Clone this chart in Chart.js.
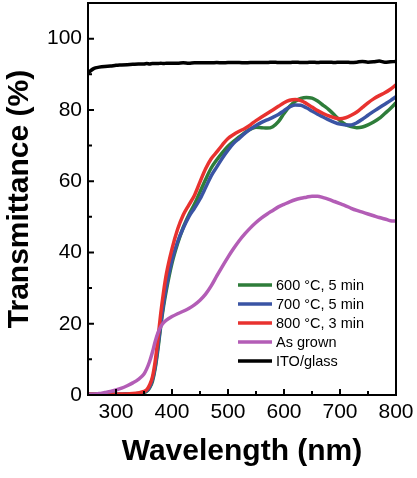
<!DOCTYPE html>
<html>
<head>
<meta charset="utf-8">
<script src="https://cdn.jsdelivr.net/npm/chart.js@4.4.0/dist/chart.umd.min.js"></script>
<style>
  html, body { margin: 0; padding: 0; background: #fff; }
  #wrap { width: 417px; height: 478px; }
</style>
</head>
<body>
<div id="wrap"><canvas id="chart" width="417" height="478"></canvas></div>
<script>
// --- DATA ---
const wavelength = [250, 260, 270, 280, 290, 300, 310, 320, 330, 340,
  350, 355, 360, 365, 370, 375, 380, 385, 390, 400,
  410, 420, 430, 440, 450, 460, 470, 480, 490, 500,
  510, 520, 530, 540, 550, 560, 570, 580, 590, 600,
  610, 620, 630, 640, 650, 660, 670, 680, 690, 700,
  710, 720, 730, 740, 750, 760, 770, 780, 790, 800];

const t600 = [0.2, 0.2, 0.2, 0.2, 0.2, 0.2, 0.2, 0.3, 0.3, 0.4,
  0.7, 1.1, 2, 3.8, 7.5, 13, 19.5, 25, 29.5, 37,
  42.5, 47, 50.5, 53.5, 57, 60.5, 63.7, 66, 68, 69.8,
  71.2, 72.4, 73.6, 74.6, 75.1, 75, 74.9, 75.3, 76.7, 79,
  81, 82.4, 83.2, 83.5, 83.3, 82.5, 81.3, 80.1, 78.6, 77,
  75.9, 75.3, 75, 75.2, 75.8, 76.6, 77.6, 79, 80.4, 82];

const t700 = [0.2, 0.2, 0.2, 0.2, 0.2, 0.2, 0.2, 0.3, 0.3, 0.4,
  0.8, 1.2, 2.2, 4.3, 8, 13.8, 20, 25.8, 30.5, 37.8,
  43, 46.8, 50, 52.4, 55, 58.2, 61.5, 64, 66.5, 68.7,
  70.6, 72, 73.4, 74.6, 75.6, 76.5, 77.2, 77.9, 78.7, 79.8,
  80.8, 81.4, 81.3, 80.6, 79.7, 78.8, 78, 77.2, 76.5, 76,
  75.8, 75.8, 76.4, 77.4, 78.5, 79.6, 80.6, 81.6, 82.6, 83.7];

const t800 = [0.2, 0.2, 0.2, 0.2, 0.2, 0.2, 0.3, 0.3, 0.4, 0.6,
  1.0, 1.5, 2.8, 5, 9.5, 16, 23, 29, 34, 41,
  46.5, 50.5, 53.3, 56, 59.8, 63.5, 66.3, 68.2, 70.2, 72,
  73.1, 74, 74.8, 75.8, 77, 78, 79, 80, 81, 82,
  82.7, 82.9, 82.6, 81.8, 80.8, 79.8, 79, 78.3, 77.8, 77.5,
  77.8, 78.5, 79.4, 80.7, 82, 83.1, 84, 84.8, 85.8, 87];

const asGrown = [0.1, 0.2, 0.4, 0.7, 1.0, 1.4, 1.9, 2.6, 3.4, 4.4,
  5.9, 7.4, 9.4, 12, 15, 17.5, 19.2, 20.3, 21, 22,
  22.8, 23.5, 24.3, 25.3, 26.6, 28.3, 30.6, 33.4, 36.1, 38.7,
  41.1, 43.3, 45.2, 46.9, 48.4, 49.7, 50.8, 51.8, 52.8, 53.5,
  54.2, 54.8, 55.2, 55.5, 55.8, 55.8, 55.4, 54.9, 54.3, 53.7,
  53.1, 52.4, 51.8, 51.3, 50.8, 50.3, 49.8, 49.4, 48.9, 48.8];

const itoGlass = [90.4, 91.6, 92.0, 92.2, 92.3, 92.5, 92.6, 92.7, 92.8, 92.9,
  92.9, 93.0, 92.9, 93.0, 93.0, 93.0, 93.1, 93.0, 93.1, 93.1,
  93.1, 93.2, 93.1, 93.2, 93.2, 93.2, 93.2, 93.3, 93.2, 93.3,
  93.3, 93.3, 93.2, 93.3, 93.3, 93.3, 93.3, 93.4, 93.3, 93.3,
  93.3, 93.4, 93.3, 93.3, 93.4, 93.3, 93.4, 93.4, 93.3, 93.4,
  93.4, 93.3, 93.4, 93.6, 93.4, 93.5, 93.7, 93.4, 93.5, 93.6];

const seriesNames = ['600 °C, 5 min', '700 °C, 5 min', '800 °C, 3 min', 'As grown', 'ITO/glass'];
const xTicks = [300, 400, 500, 600, 700, 800];
const xMinor = [350, 450, 550, 650, 750];
const yTicks = [0, 20, 40, 60, 80, 100];
const yMinor = [10, 30, 50, 70, 90];

const FONT = "'Liberation Sans', Arial, sans-serif";
const toPts = vals => vals.map((v, i) => ({ x: wavelength[i], y: v }));

// --- frame + inward ticks ---
const frameTicks = {
  id: 'frameTicks',
  afterDatasetsDraw(chart) {
    const { ctx, chartArea: a, scales: { x, y } } = chart;
    ctx.save();
    ctx.strokeStyle = '#000';
    ctx.lineWidth = 2;
    ctx.strokeRect(a.left, a.top, a.right - a.left, a.bottom - a.top);
    ctx.beginPath();
    xTicks.forEach(v => { const px = x.getPixelForValue(v); ctx.moveTo(px, a.bottom); ctx.lineTo(px, a.bottom - 6); });
    xMinor.forEach(v => { const px = x.getPixelForValue(v); ctx.moveTo(px, a.bottom); ctx.lineTo(px, a.bottom - 4); });
    yTicks.forEach(v => { const py = y.getPixelForValue(v); ctx.moveTo(a.left, py); ctx.lineTo(a.left + 6, py); });
    yMinor.forEach(v => { const py = y.getPixelForValue(v); ctx.moveTo(a.left, py); ctx.lineTo(a.left + 4, py); });
    ctx.stroke();
    ctx.restore();
  }
};

// --- legend inside the plot, bottom right ---
const innerLegend = {
  id: 'innerLegend',
  afterDraw(chart) {
    const { ctx } = chart;
    const x0 = 238, x1 = 272, tx = 276, y0 = 285, dy = 19;
    ctx.save();
    ctx.font = '14.5px ' + FONT;
    ctx.textBaseline = 'middle';
    ctx.fillStyle = '#000';
    chart.data.datasets.forEach((ds, i) => {
      const yy = y0 + i * dy;
      ctx.strokeStyle = ds.borderColor;
      ctx.lineWidth = 3.5;
      ctx.beginPath();
      ctx.moveTo(x0, yy);
      ctx.lineTo(x1, yy);
      ctx.stroke();
      ctx.fillText(ds.label, tx, yy + 1);
    });
    ctx.restore();
  }
};

const colors = ['#2e7d3a', '#3a54a4', '#e8322f', '#b35db6', '#000000'];
const drawOrder = [3, 2, 1, 0, 4]; // purple on top, green underneath
const values = [t600, t700, t800, asGrown, itoGlass];

new Chart(document.getElementById('chart'), {
  type: 'line',
  data: {
    datasets: values.map((vals, i) => ({
      label: seriesNames[i],
      data: toPts(vals),
      borderColor: colors[i],
      borderWidth: 3.5,
      order: drawOrder[i],
      pointRadius: 0,
      cubicInterpolationMode: 'monotone',
      fill: false
    }))
  },
  options: {
    responsive: false,
    animation: false,
    layout: { padding: { left: 0, right: 21, top: 3, bottom: 0 } },
    plugins: { legend: { display: false }, tooltip: { enabled: false } },
    scales: {
      x: {
        type: 'linear',
        min: 250,
        max: 800,
        afterBuildTicks: s => { s.ticks = xTicks.map(v => ({ value: v })); },
        afterFit: s => { s.height = 83; s.paddingLeft = 0; s.paddingRight = 0; },
        grid: { display: false, drawTicks: false },
        border: { display: false },
        ticks: { color: '#000', padding: 5, maxRotation: 0, font: { family: FONT, size: 21 } },
        title: {
          display: true,
          text: 'Wavelength (nm)',
          color: '#000',
          padding: { top: 0, bottom: 8 },
          font: { family: FONT, size: 30, weight: 'bold' }
        }
      },
      y: {
        min: 0,
        max: 110,
        afterBuildTicks: s => { s.ticks = yTicks.map(v => ({ value: v })); },
        afterFit: s => { s.width = 88; s.paddingTop = 0; s.paddingBottom = 0; },
        grid: { display: false, drawTicks: false },
        border: { display: false },
        ticks: { color: '#000', padding: 6, font: { family: FONT, size: 21 } },
        title: {
          display: true,
          text: 'Transmittance (%)',
          color: '#000',
          padding: { top: 2, bottom: 0 },
          font: { family: FONT, size: 30, weight: 'bold' }
        }
      }
    }
  },
  plugins: [frameTicks, innerLegend]
});
</script>
</body>
</html>
